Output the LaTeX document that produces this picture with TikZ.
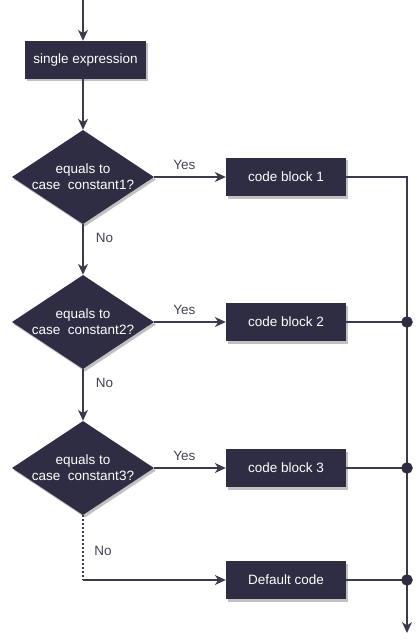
\documentclass[tikz,border=0pt]{standalone}
\usepackage{fontspec}
\setmainfont{Liberation Sans}
\usetikzlibrary{shapes.geometric,arrows.meta,shadows}
\definecolor{navy}{HTML}{2E2D43}
\definecolor{wire}{HTML}{3A3A4C}
\tikzset{
  block/.style={fill=navy, text=white, minimum width=120pt, minimum height=38pt,
    inner sep=0pt, font=\fontsize{13.5}{16}\selectfont,
    drop shadow={shadow xshift=2pt, shadow yshift=-2.5pt, opacity=0.35, fill=black!70}},
  choice/.style={diamond, fill=navy, text=white, aspect=1.51, minimum width=142pt,
    minimum height=94pt, inner sep=0pt, align=center, font=\fontsize{13.5}{16}\selectfont,
    drop shadow={shadow xshift=2pt, shadow yshift=-2.5pt, opacity=0.35, fill=black!70}},
  flow/.style={draw=wire, line width=1.3pt, -{Stealth[length=11pt, width=10pt, inset=3.5pt]}},
  link/.style={draw=wire, line width=1.3pt},
  tag/.style={font=\fontsize{13.5}{16}\selectfont, text=navy!90}
}
\begin{document}
\begin{tikzpicture}[x=1pt, y=-1pt]
    \useasboundingbox (0,0) rectangle (418,639);
    % Entry and expression
    \coordinate (top) at (83,0);
    \node[block, minimum width=121pt] (expr) at (85.5,60) {single expression};

    % Decisions
    \node[choice] (case1) at (83,177) {equals to\\case\ \ constant1?};
    \node[choice] (case2) at (83,322) {equals to\\case\ \ constant2?};
    \node[choice] (case3) at (83,468) {equals to\\case\ \ constant3?};

    % Code blocks
    \node[block] (code1) at (286,177) {code block 1};
    \node[block] (code2) at (286,322) {code block 2};
    \node[block] (code3) at (286,468) {code block 3};
    \node[block] (default) at (286,580) {Default code};

    % Exit rail
    \coordinate (rail1) at (407,177);
    \coordinate (rail2) at (407,322);
    \coordinate (rail3) at (407,468);
    \coordinate (rail4) at (407,580);
    \coordinate (exit) at (407,633);
    \coordinate (bend) at (83,580);

    % Main flow
    \draw[flow] (top) -- (top |- expr.north);
    \draw[flow] (top |- expr.south) -- (case1.north);
    \draw[flow] (case1.south) -- (case2.north) node[tag, pos=0.27, right=9pt] {No};
    \draw[flow] (case2.south) -- (case3.north) node[tag, pos=0.27, right=9pt] {No};
    \draw[link, dash pattern=on 2pt off 2pt] (case3.south) -- (bend);
    \node[tag] (no3) at (103,551) {No};
    \draw[flow] (bend) -- (default.west);

    % Yes branches
    \draw[flow] (case1.east) -- (code1.west) node[tag, pos=0.42, above=3pt] {Yes};
    \draw[flow] (case2.east) -- (code2.west) node[tag, pos=0.42, above=3pt] {Yes};
    \draw[flow] (case3.east) -- (code3.west) node[tag, pos=0.42, above=3pt] {Yes};

    % Joining the rail
    \draw[link] (code1.east) -- (rail1) -- (rail4);
    \draw[link] (code2.east) -- (rail2);
    \draw[link] (code3.east) -- (rail3);
    \draw[link] (default.east) -- (rail4);
    \draw[flow] (rail4) -- (exit);
    \foreach \r in {rail2, rail3, rail4}
        \filldraw[navy] (\r) circle (5.5pt);
\end{tikzpicture}
\end{document}
